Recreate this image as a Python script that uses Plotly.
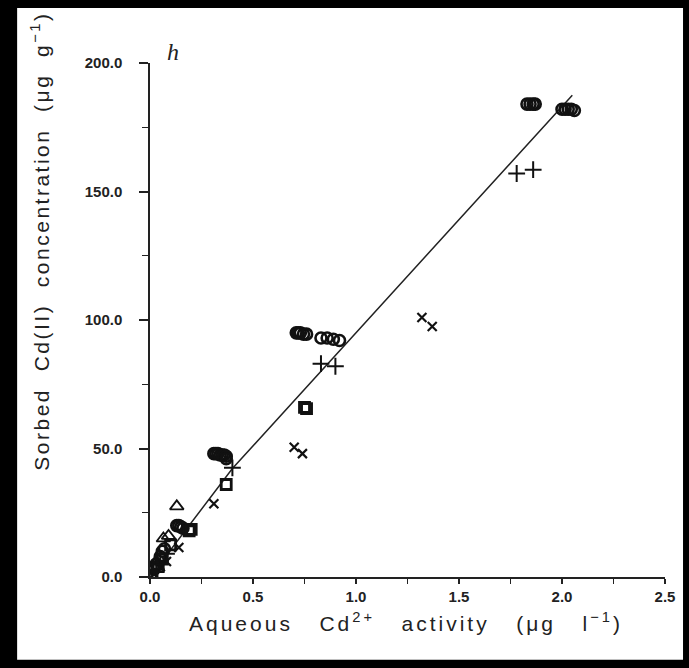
import plotly.graph_objects as go

# ---- data ----
circle_x = [1.83, 1.845, 1.86, 1.87, 2.00, 2.015, 2.03, 2.045, 2.06,
            0.71, 0.72, 0.73, 0.745, 0.76, 0.83, 0.86, 0.89, 0.92,
            0.31, 0.32, 0.33, 0.34, 0.35, 0.36, 0.37, 0.37,
            0.13, 0.14, 0.15, 0.16,
            0.02, 0.03, 0.05, 0.06, 0.07]
circle_y = [184, 184, 184, 184, 182, 182, 182, 182, 181.5,
            95, 95, 95, 94.5, 94.5, 93, 93, 92.5, 92,
            48, 48, 48, 47.5, 47.5, 47.5, 47, 46,
            20, 20, 19.5, 19,
            3, 5, 8, 10, 11]

plus_x = [1.78, 1.86, 0.83, 0.90, 0.40, 0.03, 0.05, 0.08]
plus_y = [157, 158.5, 83, 82, 42.5, 3, 6, 9]

cross_x = [1.32, 1.37, 0.70, 0.74, 0.31, 0.14, 0.08, 0.05, 0.02]
cross_y = [101, 97.5, 50.5, 48, 28.5, 11.5, 6, 4, 1]

square_x = [0.75, 0.76, 0.37, 0.19, 0.20, 0.10, 0.04, 0.06, 0.01]
square_y = [66, 65.5, 36, 18, 18.5, 12.5, 4, 7, 0.5]

tri_x = [0.13, 0.065, 0.09, 0.03]
tri_y = [27.5, 15, 16, 6]

fit_x = [0.0, 0.40, 2.05]
fit_y = [0.0, 42.2, 187.5]

x_ticks = [0.0, 0.5, 1.0, 1.5, 2.0, 2.5]
y_ticks = [0.0, 50.0, 100.0, 150.0, 200.0]

x_title = "Aqueous   Cd<sup>2+</sup>   activity   (μg   l<sup>−1</sup>)"
y_title = "Sorbed  Cd(II)  concentration  (μg  g<sup>−1</sup>)"
panel_label = "<i>h</i>"

fig = go.Figure()

fig.add_trace(go.Scatter(x=fit_x, y=fit_y, mode="lines",
                         line=dict(color="#222", width=1.5), showlegend=False))

def add_markers(xs, ys, symbol, size, lw):
    fig.add_trace(go.Scatter(x=xs, y=ys, mode="markers", showlegend=False,
                             marker=dict(symbol=symbol, size=size, color="#111",
                                         line=dict(color="#111", width=lw))))

add_markers(circle_x, circle_y, "circle-open", 11, 2.6)
add_markers(plus_x, plus_y, "cross-thin-open", 12, 2)
add_markers(cross_x, cross_y, "x-thin-open", 9, 2.2)
add_markers(square_x, square_y, "square-open", 10, 2.8)
add_markers(tri_x, tri_y, "triangle-up-open", 12, 1.8)

font_family = "Liberation Sans, Arial, sans-serif"
tickfont = dict(family=font_family, size=15, color="#222", weight="bold")
titlefont = dict(family=font_family, size=21, color="#222")

fig.update_xaxes(range=[0, 2.5], tickvals=x_ticks, ticktext=[f"{v:.1f}" for v in x_ticks],
                 showgrid=False, zeroline=False, showline=True, linecolor="#222", linewidth=1.5,
                 ticks="outside", ticklen=5, tickwidth=1.5, tickcolor="#222",
                 minor=dict(ticks="outside", dtick=0.25, tick0=0, ticklen=5, tickcolor="#222", tickwidth=1.2),
                 tickfont=tickfont)
fig.update_yaxes(range=[0, 200], tickvals=y_ticks, ticktext=[f"{v:.1f}" for v in y_ticks],
                 showgrid=False, zeroline=False, showline=True, linecolor="#222", linewidth=1.5,
                 ticks="outside", ticklen=9, tickwidth=1.5, tickcolor="#222",
                 ticklabelstandoff=14,
                 minor=dict(ticks="outside", dtick=25, tick0=0, ticklen=6, tickcolor="#222", tickwidth=1.2),
                 tickfont=tickfont)

fig.add_annotation(x=0.497, y=-0.058, xref="paper", yref="paper",
                   text=f'<span style="letter-spacing:3px">{x_title}</span>',
                   showarrow=False, font=titlefont, yanchor="top")
fig.add_annotation(x=-0.243, y=0.654, xref="paper", yref="paper",
                   text=f'<span style="letter-spacing:2.5px">{y_title}</span>',
                   showarrow=False, font=titlefont, textangle=-90)
fig.add_annotation(x=0.11, y=1.05, xref="x", yref="paper", text=panel_label,
                   showarrow=False, font=dict(family="Liberation Serif, serif", size=24, color="#222"))

fig.add_shape(type="rect", xref="paper", yref="paper", x0=-0.258, x1=1.035, y0=-0.161, y1=1.107,
              fillcolor="white", line=dict(width=0), layer="below")

fig.update_layout(width=689, height=668, margin=dict(l=150, r=24, t=63, b=91, autoexpand=False),
                  paper_bgcolor="black", plot_bgcolor="rgba(0,0,0,0)")

fig.write_html("out.html")
